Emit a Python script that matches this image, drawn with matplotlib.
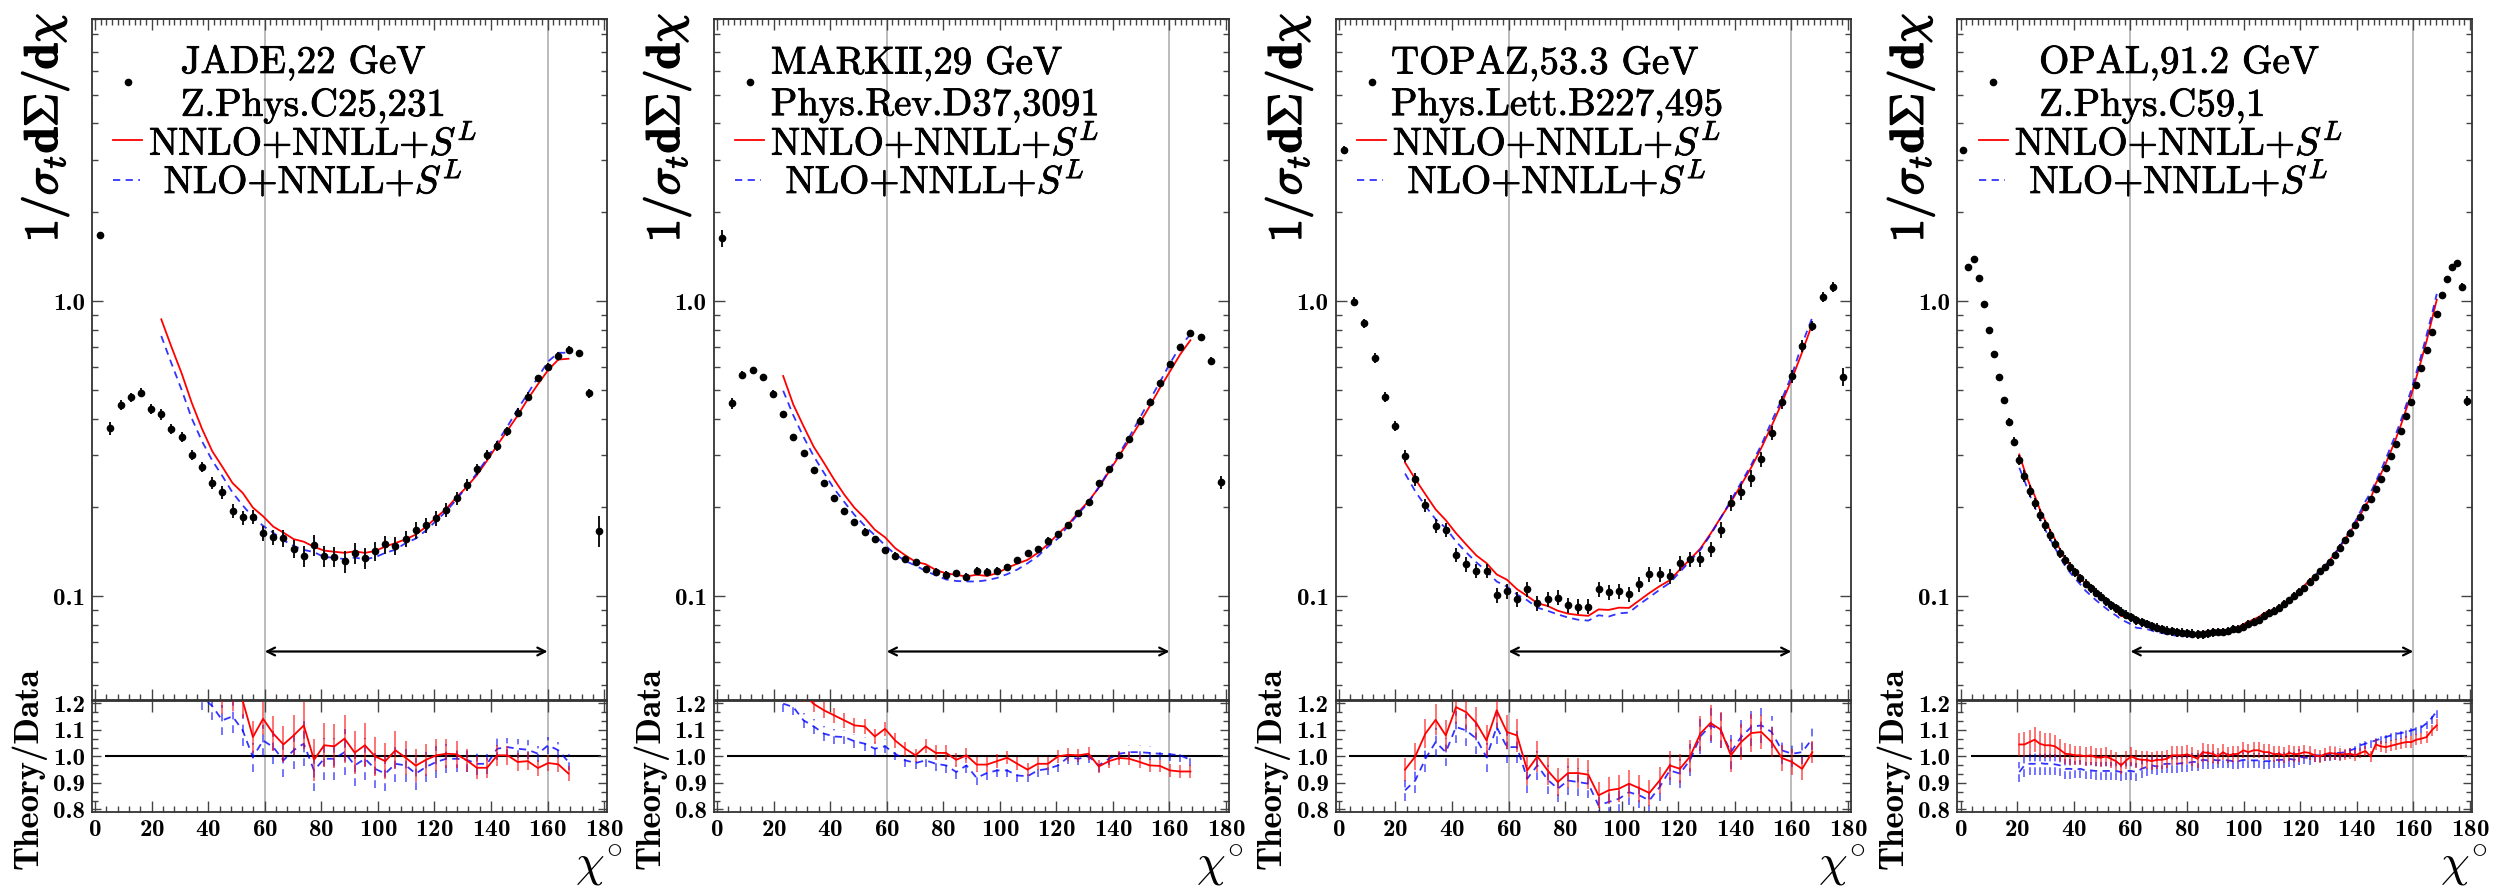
import numpy as np
import matplotlib
matplotlib.use("Agg")
import matplotlib.pyplot as plt
import matplotlib.patheffects as pe
from matplotlib.ticker import FixedLocator, FixedFormatter, MultipleLocator, NullFormatter, LogLocator

plt.rcParams["mathtext.fontset"] = "cm"
plt.rcParams["font.family"] = "cmr10"
plt.rcParams["axes.formatter.use_mathtext"] = True

# bin centres (3.6 deg bins for JADE/MARKII/TOPAZ, 1.8 deg for OPAL)
chi50 = np.linspace(1.8, 178.2, 50)
chi100 = np.linspace(0.9, 179.1, 100)
fit_range = (60, 160)

# ---- JADE 22 GeV ----
jade_y = [1.669, 0.371, 0.445, 0.472, 0.489, 0.430, 0.413, 0.368, 0.347, 0.301,
          0.2735, 0.2424, 0.2249, 0.195, 0.185, 0.186, 0.1634, 0.1585, 0.1572, 0.1447,
          0.137, 0.149, 0.137, 0.1363, 0.1315, 0.140, 0.1346, 0.1423, 0.150, 0.148,
          0.1567, 0.1677, 0.174, 0.184, 0.196, 0.2147, 0.238, 0.269, 0.301, 0.3236,
          0.363, 0.418, 0.474, 0.547, 0.599, 0.653, 0.682, 0.665, 0.487, 0.1668]
jade_err = [0.03, 0.05, 0.04, 0.035, 0.035, 0.04, 0.04, 0.04, 0.04, 0.04,
            0.04, 0.045, 0.05, 0.055, 0.055, 0.055, 0.055, 0.06, 0.065, 0.07,
            0.08, 0.08, 0.08, 0.08, 0.085, 0.08, 0.08, 0.075, 0.07, 0.07,
            0.065, 0.065, 0.06, 0.06, 0.055, 0.05, 0.045, 0.045, 0.04, 0.04,
            0.035, 0.035, 0.035, 0.03, 0.03, 0.03, 0.03, 0.03, 0.035, 0.12]
jade_r_nnlo = [2.10, 1.90, 1.64, 1.50, 1.35, 1.28, 1.22, 1.24, 1.21, 1.073,
               1.142, 1.086, 1.045, 1.079, 1.117, 0.987, 1.042, 1.038, 1.067, 1.014,
               1.042, 1.0, 0.982, 1.023, 0.995, 0.965, 0.987, 1.004, 1.010, 1.008,
               0.985, 0.957, 0.957, 1.004, 1.004, 0.979, 0.982, 0.956, 0.975, 0.970, 0.935]
jade_r_nlo = [1.843, 1.671, 1.441, 1.329, 1.225, 1.19, 1.136, 1.151, 1.098, 0.997,
              1.06, 1.035, 0.985, 1.023, 1.048, 0.947, 0.991, 0.991, 1.016, 0.966,
              0.991, 0.953, 0.935, 0.972, 0.966, 0.935, 0.96, 0.979, 0.991, 0.991,
              0.987, 0.972, 0.972, 1.029, 1.035, 1.029, 1.025, 1.01, 1.042, 1.023, 0.979]

# ---- MARKII 29 GeV ----
markii_y = [1.63, 0.450, 0.5615, 0.5838, 0.554, 0.4856, 0.4143, 0.3454, 0.305, 0.2678,
            0.2413, 0.2153, 0.1945, 0.1785, 0.1655, 0.1563, 0.1435, 0.1373, 0.1337, 0.1303,
            0.1237, 0.1211, 0.118, 0.1197, 0.1162, 0.1221, 0.1209, 0.1218, 0.1254, 0.1327,
            0.1398, 0.1442, 0.1543, 0.1626, 0.1739, 0.1919, 0.208, 0.2425, 0.2692, 0.301,
            0.341, 0.3934, 0.456, 0.5263, 0.6105, 0.700, 0.781, 0.757, 0.626, 0.243]
markii_err = [0.065, 0.04, 0.03, 0.025, 0.025, 0.025, 0.025, 0.025, 0.025, 0.025,
              0.025, 0.025, 0.025, 0.025, 0.025, 0.025, 0.025, 0.025, 0.025, 0.025,
              0.025, 0.028, 0.028, 0.028, 0.028, 0.028, 0.028, 0.028, 0.025, 0.025,
              0.025, 0.025, 0.025, 0.025, 0.025, 0.025, 0.025, 0.025, 0.025, 0.025,
              0.025, 0.025, 0.025, 0.025, 0.025, 0.025, 0.025, 0.025, 0.03, 0.05]
markii_r_nnlo = [1.345, 1.29, 1.235, 1.198, 1.174, 1.155, 1.136, 1.117, 1.113, 1.075,
                 1.104, 1.06, 1.029, 1.004, 1.038, 1.013, 1.013, 0.987, 1.004, 0.969,
                 0.969, 0.982, 0.995, 0.972, 0.950, 0.972, 0.972, 1.0, 1.006, 1.004,
                 1.01, 0.962, 0.982, 0.994, 0.991, 0.979, 0.966, 0.964, 0.947, 0.943, 0.943]
markii_r_nlo = [1.199, 1.186, 1.136, 1.113, 1.086, 1.075, 1.073, 1.057, 1.048, 1.029,
                1.038, 1.010, 0.985, 0.975, 0.985, 0.972, 0.966, 0.941, 0.966, 0.919,
                0.937, 0.947, 0.947, 0.928, 0.925, 0.947, 0.953, 0.966, 0.997, 0.991,
                1.0, 0.966, 0.991, 1.010, 1.016, 1.016, 1.013, 1.010, 1.008, 1.004, 0.987]

# ---- TOPAZ 53.3 GeV ----
topaz_y = [3.245, 0.995, 0.840, 0.640, 0.474, 0.3774, 0.2986, 0.2495, 0.2038, 0.173,
           0.1677, 0.138, 0.1283, 0.1221, 0.1221, 0.101, 0.1042, 0.0979, 0.1058, 0.0947,
           0.0979, 0.0989, 0.0932, 0.0922, 0.0922, 0.1058, 0.1031, 0.1042, 0.1018, 0.110,
           0.119, 0.119, 0.1172, 0.1293, 0.1335, 0.1335, 0.1446, 0.1677, 0.2075, 0.226,
           0.2509, 0.2917, 0.358, 0.454, 0.557, 0.704, 0.825, 1.034, 1.118, 0.554]
topaz_err = [0.03, 0.035, 0.035, 0.04, 0.04, 0.04, 0.045, 0.05, 0.05, 0.052,
             0.053, 0.055, 0.055, 0.055, 0.055, 0.058, 0.058, 0.058, 0.058, 0.058,
             0.059, 0.059, 0.059, 0.059, 0.059, 0.058, 0.058, 0.058, 0.058, 0.058,
             0.058, 0.058, 0.058, 0.058, 0.06, 0.06, 0.06, 0.062, 0.062, 0.063,
             0.065, 0.06, 0.055, 0.05, 0.05, 0.045, 0.04, 0.04, 0.04, 0.07]
topaz_r_nnlo = [0.950, 1.0, 1.086, 1.138, 1.079, 1.186, 1.167, 1.126, 1.06, 1.174,
                1.092, 1.079, 0.947, 1.0, 0.947, 0.903, 0.937, 0.937, 0.931, 0.853,
                0.872, 0.878, 0.897, 0.880, 0.862, 0.909, 0.966, 0.953, 1.0, 1.086,
                1.126, 1.101, 1.004, 1.054, 1.088, 1.092, 1.054, 0.994, 0.979, 0.953, 1.016]
topaz_r_nlo = [0.872, 0.909, 0.991, 1.054, 1.016, 1.111, 1.098, 1.067, 0.997, 1.111,
               1.035, 1.035, 0.916, 0.966, 0.912, 0.878, 0.909, 0.903, 0.897, 0.815,
               0.828, 0.840, 0.865, 0.853, 0.834, 0.884, 0.947, 0.935, 0.987, 1.075,
               1.117, 1.098, 1.016, 1.073, 1.111, 1.117, 1.092, 1.023, 1.010, 1.016, 1.067]

# ---- OPAL 91.2 GeV ----
opal_y = [3.245, 1.307, 1.384, 1.20, 0.974, 0.796, 0.6613, 0.554, 0.462, 0.390,
          0.334, 0.2894, 0.2555, 0.2273, 0.2065, 0.1885, 0.174, 0.1613, 0.1503, 0.1405,
          0.1327, 0.126, 0.1206, 0.115, 0.1103, 0.1064, 0.1028, 0.0995, 0.0964, 0.0934,
          0.0911, 0.0887, 0.0866, 0.0849, 0.0831, 0.0817, 0.0806, 0.0793, 0.0783, 0.0775,
          0.0765, 0.0761, 0.0755, 0.0753, 0.0751, 0.0747, 0.0743, 0.0745, 0.0751, 0.0755,
          0.0759, 0.0759, 0.0763, 0.0773, 0.0777, 0.0787, 0.0804, 0.0817, 0.0831, 0.0860,
          0.0878, 0.0892, 0.0915, 0.0941, 0.0969, 0.100, 0.1034, 0.1069, 0.1121, 0.1165,
          0.1218, 0.1254, 0.1309, 0.138, 0.1461, 0.155, 0.1642, 0.1743, 0.186, 0.2002,
          0.213, 0.2303, 0.2495, 0.2726, 0.2986, 0.328, 0.3637, 0.408, 0.456, 0.5194,
          0.594, 0.682, 0.783, 0.904, 1.048, 1.190, 1.307, 1.342, 1.118, 0.4584]
opal_err = [0.025, 0.02, 0.02, 0.02, 0.02, 0.02, 0.02, 0.02, 0.025, 0.03,
            0.035, 0.04, 0.045, 0.045, 0.045, 0.045, 0.045, 0.045, 0.04, 0.04,
            0.04, 0.04, 0.035, 0.035, 0.035, 0.035, 0.035, 0.035, 0.035, 0.035,
            0.035, 0.035, 0.035, 0.035, 0.035, 0.035, 0.035, 0.035, 0.035, 0.035,
            0.035, 0.035, 0.035, 0.035, 0.035, 0.035, 0.035, 0.035, 0.035, 0.035,
            0.03, 0.03, 0.03, 0.03, 0.03, 0.03, 0.03, 0.03, 0.03, 0.03,
            0.03, 0.03, 0.03, 0.03, 0.03, 0.03, 0.03, 0.025, 0.025, 0.025,
            0.025, 0.025, 0.025, 0.025, 0.025, 0.02, 0.02, 0.02, 0.02, 0.02,
            0.02, 0.02, 0.02, 0.02, 0.02, 0.02, 0.02, 0.02, 0.02, 0.02,
            0.02, 0.02, 0.02, 0.02, 0.02, 0.02, 0.025, 0.025, 0.03, 0.04]
opal_r_nnlo = [1.045, 1.045, 1.054, 1.063, 1.048, 1.042, 1.042, 1.038, 1.025, 1.010,
               1.008, 1.004, 1.004, 1.0, 1.004, 0.997, 0.995, 1.0, 0.991, 0.982,
               0.966, 0.985, 1.0, 0.991, 0.987, 0.987, 0.982, 0.987, 0.987, 0.991,
               1.004, 1.004, 1.004, 1.008, 1.0, 0.991, 1.016, 1.013, 1.010, 1.0,
               1.016, 1.004, 1.008, 1.010, 1.023, 1.016, 1.023, 1.023, 1.016, 1.016,
               1.008, 1.010, 1.004, 1.013, 1.008, 1.010, 1.016, 1.013, 1.004, 1.0,
               1.008, 1.013, 1.010, 1.008, 1.008, 1.010, 1.004, 1.013, 1.020, 1.0,
               1.045, 1.038, 1.035, 1.04, 1.045, 1.050, 1.054, 1.054, 1.063, 1.067,
               1.073, 1.098, 1.117]
opal_r_nlo = [0.941, 0.966, 0.972, 0.972, 0.975, 0.972, 0.972, 0.970, 0.966, 0.953,
              0.953, 0.950, 0.953, 0.947, 0.947, 0.945, 0.945, 0.945, 0.945, 0.945,
              0.941, 0.945, 0.945, 0.941, 0.953, 0.960, 0.966, 0.962, 0.970, 0.972,
              0.972, 0.972, 0.975, 0.975, 0.979, 0.979, 0.987, 0.985, 0.987, 0.985,
              0.987, 0.985, 0.982, 0.982, 0.987, 0.985, 0.985, 0.985, 0.982, 0.982,
              0.985, 0.987, 0.987, 0.991, 0.987, 0.997, 0.997, 0.991, 1.004, 1.004,
              1.008, 1.008, 1.013, 1.013, 1.016, 1.023, 1.029, 1.042, 1.048, 1.054,
              1.06, 1.067, 1.073, 1.079, 1.085, 1.088, 1.092, 1.098, 1.104, 1.110,
              1.125, 1.145, 1.170]

panels = [
    ("JADE,22 GeV\nZ.Phys.C25,231", chi50, jade_y, jade_err, 6, jade_r_nnlo, jade_r_nlo),
    ("MARKII,29 GeV\nPhys.Rev.D37,3091", chi50, markii_y, markii_err, 6, markii_r_nnlo, markii_r_nlo),
    ("TOPAZ,53.3 GeV\nPhys.Lett.B227,495", chi50, topaz_y, topaz_err, 6, topaz_r_nnlo, topaz_r_nlo),
    ("OPAL,91.2 GeV\nZ.Phys.C59,1", chi100, opal_y, opal_err, 11, opal_r_nnlo, opal_r_nlo),
]

W, H = 2517, 890
fig = plt.figure(figsize=(W / 100, H / 100), dpi=100)

tick_font = "cmb10"
bold_fx = [pe.withStroke(linewidth=1.1, foreground="black")]
leg_fx = [pe.withStroke(linewidth=0.6, foreground="black")]
ratio_minor = np.arange(0.8, 1.21, 0.1 / 3)


def style_ticks(a, labelsize=18):
    a.tick_params(which="both", direction="in", right=True,
                  labelsize=labelsize, labelfontfamily=tick_font, pad=5, color="#444444")
    a.tick_params(which="major", length=8, width=1)
    a.tick_params(which="minor", length=4.5, width=1)
    for s in a.spines.values():
        s.set_linewidth(1.3)
        s.set_color("#333333")


for i, (label, chi, y, err, i0, r_nnlo, r_nlo) in enumerate(panels):
    left = (91.7 + 621.9 * i) / W
    width = 515 / W
    ax = fig.add_axes([left, 1 - 699.5 / H, width, 680.2 / H])
    axr = fig.add_axes([left, 1 - 812.3 / H, width, 111.3 / H])

    y = np.array(y)
    err = np.array(err)
    r_nnlo = np.array(r_nnlo)
    r_nlo = np.array(r_nlo)
    i1 = i0 + len(r_nnlo)
    xt = chi[i0:i1]
    yt = y[i0:i1]
    et = err[i0:i1]

    # main panel
    for a in (ax, axr):
        for xv in fit_range:
            a.axvline(xv, color="#aaaaaa", lw=1.1, zorder=0)
    ax.plot(xt, yt * r_nnlo, color="red", lw=1.3, zorder=2)
    ax.plot(xt, yt * r_nlo, color="blue", lw=1.3, ls=(0, (4, 3)), alpha=0.8, zorder=2)
    ax.errorbar(chi, y, yerr=y * err, fmt="o", color="black", ms=4.5,
                elinewidth=1.3, capsize=0, zorder=3)
    ax.annotate("", xy=(fit_range[1], 0.065), xytext=(fit_range[0], 0.065),
                arrowprops=dict(arrowstyle="<->", lw=1.6, color="black",
                                shrinkA=0, shrinkB=0, mutation_scale=14))

    ax.set_yscale("log")
    ax.set_xlim(-1.2, 180.9)
    ax.set_ylim(0.0447, 9.0)
    ax.yaxis.set_major_locator(FixedLocator([0.1, 1.0]))
    ax.yaxis.set_major_formatter(FixedFormatter(["0.1", "1.0"]))
    ax.yaxis.set_minor_locator(LogLocator(subs=np.arange(2, 10)))
    ax.yaxis.set_minor_formatter(NullFormatter())
    ax.xaxis.set_major_locator(MultipleLocator(20))
    ax.xaxis.set_minor_locator(MultipleLocator(4))
    style_ticks(ax)
    ax.tick_params(labelbottom=False, top=False)
    top = ax.secondary_xaxis("top")
    top.xaxis.set_major_locator(MultipleLocator(20))
    top.xaxis.set_minor_locator(MultipleLocator(2))
    top.tick_params(which="both", direction="in", labeltop=False, color="#444444", width=1)
    top.tick_params(which="major", length=8)
    top.tick_params(which="minor", length=4.5)
    top.spines["top"].set_linewidth(1.3)
    top.spines["top"].set_color("#333333")

    # ratio panel
    axr.hlines(1.0, 3.6, 179, color="black", lw=1.5, zorder=1)
    axr.plot(xt, r_nnlo, color="red", lw=1.3, zorder=3)
    axr.vlines(xt, r_nnlo * (1 - et), r_nnlo * (1 + et), colors="red", lw=1.4, alpha=0.55, zorder=3)
    axr.plot(xt, r_nlo, color="blue", lw=1.3, ls=(0, (4, 3)), alpha=0.8, zorder=2)
    axr.vlines(xt, r_nlo * (1 - et), r_nlo * (1 + et), colors="blue", lw=1.4,
               linestyles=(0, (4, 3)), alpha=0.55, zorder=2)
    axr.set_xlim(-1.2, 180.9)
    axr.set_ylim(0.789, 1.209)
    axr.yaxis.set_major_locator(FixedLocator([0.8, 0.9, 1.0, 1.1, 1.2]))
    axr.yaxis.set_major_formatter(FixedFormatter(["0.8", "0.9", "1.0", "1.1", "1.2"]))
    axr.yaxis.set_minor_locator(FixedLocator(ratio_minor))
    axr.xaxis.set_major_locator(MultipleLocator(20))
    axr.xaxis.set_minor_locator(MultipleLocator(4))
    style_ticks(axr)
    axr.tick_params(top=True)
    axr.tick_params(axis="y", which="major", length=6.5)
    axr.tick_params(axis="y", which="minor", length=4)

    # legend drawn in axes coordinates
    ax.plot([0.070], [0.908], "o", color="black", ms=4.5, transform=ax.transAxes)
    ax.text(0.43, 0.905, label, ha="center", va="center", multialignment="left",
            fontsize=28, transform=ax.transAxes, path_effects=leg_fx)
    ax.plot([0.042, 0.098], [0.8226, 0.8226], color="red", lw=1.3, transform=ax.transAxes)
    ax.text(0.43, 0.8005, r"NNLO+NNLL+$S^L$", ha="center", va="baseline",
            fontsize=28, transform=ax.transAxes, path_effects=leg_fx)
    ax.plot([0.042, 0.093], [0.7637, 0.7637], color="blue", lw=1.3, ls=(0, (4, 3)),
            alpha=0.8, transform=ax.transAxes)
    ax.text(0.43, 0.7442, r"NLO+NNLL+$S^L$", ha="center", va="baseline",
            fontsize=28, transform=ax.transAxes, path_effects=leg_fx)

    # axis titles
    ax.text(-0.0907, 1.0093, r"$\mathbf{1/}\sigma_{t}\mathbf{d\Sigma/d}\chi$", rotation=90,
            ha="center", va="top", fontsize=34, transform=ax.transAxes, path_effects=bold_fx)
    axr.text(-0.1225, 0.397, "Theory/Data", rotation=90, ha="center", va="center",
             fontsize=25, fontfamily=tick_font, transform=axr.transAxes)
    axr.text(1.03, -0.58, r"$\chi^{\circ}$", ha="right", va="baseline",
             fontsize=33, transform=axr.transAxes)

fig.savefig("out.png", dpi=100)
